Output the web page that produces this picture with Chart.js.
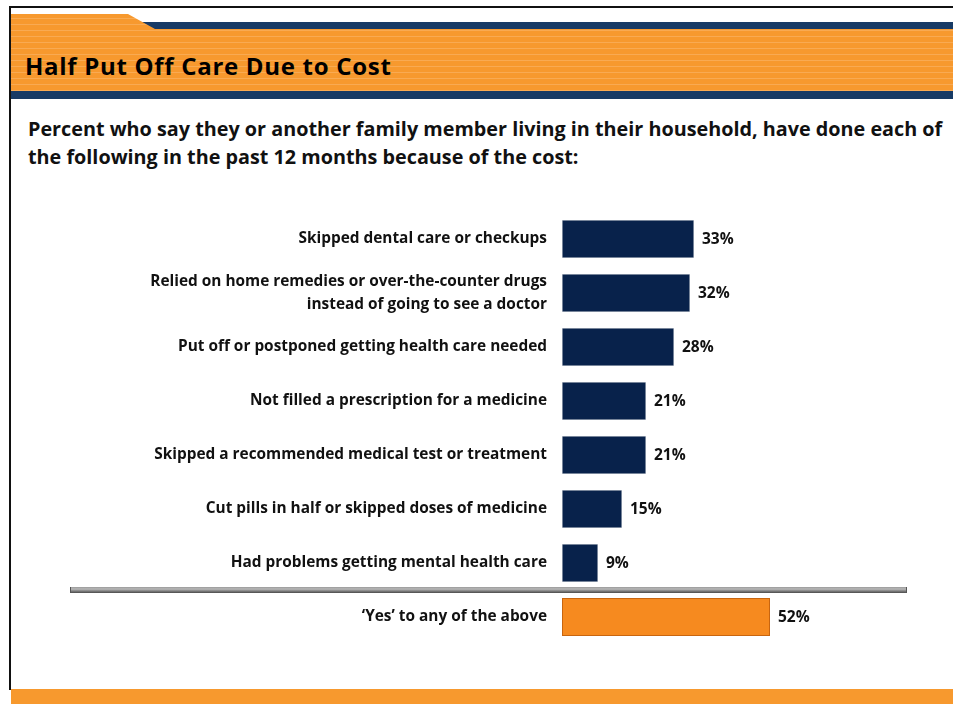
<!DOCTYPE html>
<html>
<head>
<meta charset="utf-8">
<script src="https://cdn.jsdelivr.net/npm/chart.js@4.4.1/dist/chart.umd.min.js"></script>
<style>
  html, body { margin: 0; padding: 0; background: #fff; }
  body { width: 953px; height: 704px; position: relative; overflow: hidden; font-family: "Open Sans", Lato, sans-serif; }
  .abs { position: absolute; }
  #frameTop { left: 9px; top: 6px; width: 944px; height: 2px; background: #111; }
  #frameLeft { left: 9px; top: 6px; width: 2px; height: 684px; background: #111; }
  #navyStrip { left: 128px; top: 22px; width: 825px; height: 8px; background: #173a65; }
  #orangeBand {
    left: 11px; top: 14px; width: 942px; height: 77px;
    background: repeating-linear-gradient(to bottom, #f7992e 0px, #f7992e 4px, #f9aa52 4px, #f9aa52 5px, #f7992e 5px, #f7992e 6px);
    clip-path: polygon(0 0, 117px 0, 144px 15px, 100% 15px, 100% 100%, 0 100%);
  }
  #navyBand { left: 11px; top: 91px; width: 942px; height: 8px; background: #173a65; }
  #title { left: 25px; top: 49px; font-size: 24px; font-weight: 700; color: #000; letter-spacing: 0.7px; white-space: nowrap; line-height: 34px; }
  #subtitle { left: 28px; top: 115px; font-size: 19.8px; font-weight: 700; color: #111; line-height: 28px; white-space: nowrap; }
  #footBand { left: 11px; top: 689px; width: 942px; height: 15px; background: #f7992e; }
  #chartWrap { left: 0; top: 200px; width: 953px; height: 460px; }
</style>
</head>
<body>
<div class="abs" id="navyStrip"></div>
<div class="abs" id="orangeBand"></div>
<div class="abs" id="navyBand"></div>
<div class="abs" id="frameTop"></div>
<div class="abs" id="frameLeft"></div>
<div class="abs" id="title">Half Put Off Care Due to Cost</div>
<div class="abs" id="subtitle">Percent who say they or another family member living in their household, have done each of<br>the following in the past 12 months because of the cost:</div>
<div class="abs" id="footBand"></div>
<div class="abs" id="chartWrap"><canvas id="c" width="953" height="460"></canvas></div>
<script>
// Survey items, in display order (last row is the summary row)
const categories = [
  "Skipped dental care or checkups",
  ["Relied on home remedies or over-the-counter drugs", "instead of going to see a doctor"],
  "Put off or postponed getting health care needed",
  "Not filled a prescription for a medicine",
  "Skipped a recommended medical test or treatment",
  "Cut pills in half or skipped doses of medicine",
  "Had problems getting mental health care",
  "\u2018Yes\u2019 to any of the above"
];
// Percent of respondents
const values = [33, 32, 28, 21, 21, 15, 9, 52];
const valueLabels = ["33%", "32%", "28%", "21%", "21%", "15%", "9%", "52%"];

const NAVY = "#08224b";
const ORANGE = "#f68a1f";
const summaryIndex = values.length - 1;
const FONT = '"Open Sans", Lato, sans-serif';

// Writes the percentage just past the end of each bar
const valueLabelPlugin = {
  id: "valueLabels",
  afterDatasetsDraw(chart) {
    const ctx = chart.ctx;
    const meta = chart.getDatasetMeta(0);
    ctx.save();
    ctx.font = "700 15.5px " + FONT;
    ctx.fillStyle = "#111";
    ctx.textAlign = "left";
    ctx.textBaseline = "middle";
    meta.data.forEach((bar, i) => {
      ctx.fillText(valueLabels[i], bar.x + 8, bar.y + 1);
    });
    ctx.restore();
  }
};

// Grey rule separating the items from the summary row
const dividerPlugin = {
  id: "divider",
  afterDraw(chart) {
    const y = chart.scales.y;
    const mid = Math.round((y.getPixelForValue(summaryIndex - 1) + y.getPixelForValue(summaryIndex)) / 2);
    const ctx = chart.ctx;
    const x0 = 70, x1 = 907, top = mid - 3, h = 6;
    const g = ctx.createLinearGradient(0, top, 0, top + h);
    g.addColorStop(0, "#9a9a9a");
    g.addColorStop(0.35, "#b8b8b8");
    g.addColorStop(0.7, "#7a7a7a");
    g.addColorStop(1, "#4a4a4a");
    ctx.save();
    ctx.fillStyle = g;
    ctx.fillRect(x0, top, x1 - x0, h);
    ctx.fillStyle = "#555";
    ctx.fillRect(x0, top, 1, h);
    ctx.fillRect(x1 - 1, top, 1, h);
    ctx.restore();
  }
};

new Chart(document.getElementById("c"), {
  type: "bar",
  data: {
    labels: categories,
    datasets: [{
      data: values,
      backgroundColor: values.map((v, i) => i === summaryIndex ? ORANGE : NAVY),
      borderColor: values.map((v, i) => i === summaryIndex ? "#c8650f" : "#d0d4da"),
      borderWidth: values.map((v, i) => i === summaryIndex ? 1 : 0.5),
      borderSkipped: false,
      categoryPercentage: 1,
      barPercentage: 0.7
    }]
  },
  options: {
    indexAxis: "y",
    responsive: false,
    animation: false,
    devicePixelRatio: 1,
    layout: { padding: { top: 12, bottom: 16, left: 0, right: 31 } },
    plugins: { legend: { display: false }, tooltip: { enabled: false } },
    scales: {
      x: { display: false, min: 0, max: 90 },
      y: {
        grid: { display: false, drawTicks: false },
        border: { display: false },
        ticks: {
          color: "#111",
          padding: 15,
          font: { family: FONT, size: 15.4, weight: "700", lineHeight: 1.45 }
        },
        afterFit(scale) {
          scale.width = 562;
          scale.paddingTop = 0;
          scale.paddingBottom = 0;
        }
      }
    }
  },
  plugins: [valueLabelPlugin, dividerPlugin]
});
</script>
</body>
</html>
